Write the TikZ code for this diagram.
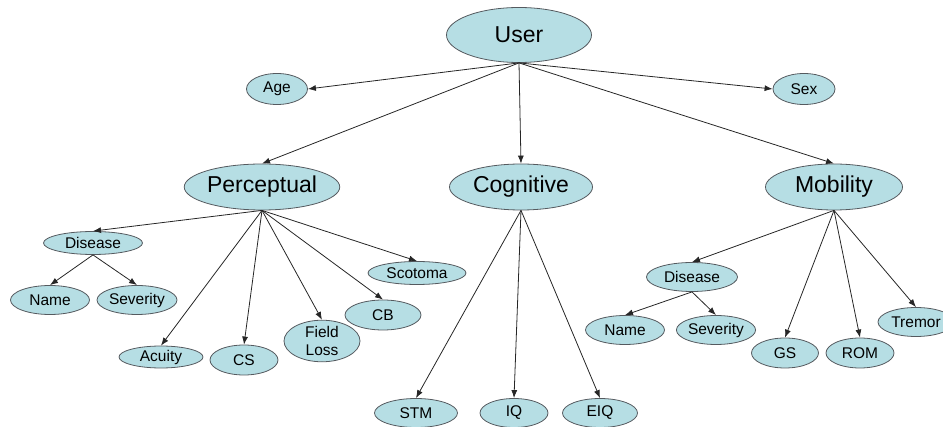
\documentclass[tikz,border=0pt]{standalone}
\usepackage{fontspec}
\setmainfont{Liberation Sans}
\usepackage{tikz}
\usetikzlibrary{shapes.geometric,arrows.meta}
\definecolor{nodefill}{RGB}{182,222,228}
\definecolor{nodeline}{RGB}{85,90,95}
\tikzset{
  oval/.style={ellipse, draw=nodeline, fill=nodefill, line width=0.8pt, inner sep=0pt},
  bigoval/.style={oval, font=\fontsize{23}{27}\selectfont},
  smalloval/.style={oval, font=\fontsize{15.5}{18}\selectfont, align=center},
  link/.style={-{Latex[length=8pt,width=6pt]}, line width=0.8pt, black!85}
}
\begin{document}
\begin{tikzpicture}[x=1pt,y=-1pt]
\useasboundingbox (0,0) rectangle (943,427);
\clip (0,0) rectangle (943,427);
\draw (519,35) node[bigoval,minimum width=145pt,minimum height=55pt](User) {User};
	\draw (277,89) node[smalloval,minimum width=61pt,minimum height=31pt](Age) {Age};
	\draw (804,89) node[smalloval,minimum width=62pt,minimum height=31pt](Sex) {Sex};
	\draw (262,187) node[bigoval,minimum width=135pt,minimum height=46pt](Perceptual) {Perceptual};
		\draw (93,243) node[smalloval,minimum width=99pt,minimum height=23pt](PDisease) {Disease};
			\draw (50,300) node[smalloval,minimum width=79pt,minimum height=29pt](PName) {Name};
			\draw (137,300) node[smalloval,minimum width=80pt,minimum height=29pt](PSeverity) {Severity};
		\draw (161,357) node[smalloval,minimum width=84pt,minimum height=22pt](Acuity) {Acuity};
		\draw (244,360) node[smalloval,minimum width=68pt,minimum height=30pt](CS) {CS};
		\draw (322,341) node[smalloval,minimum width=76pt,minimum height=40pt](FieldLoss) {Field\\Loss};
		\draw (383,315) node[smalloval,minimum width=76pt,minimum height=30pt](CB) {CB};
		\draw (417,273) node[smalloval,minimum width=98pt,minimum height=23pt](Scotoma) {Scotoma};
	\draw (521,187) node[bigoval,minimum width=143pt,minimum height=46pt](Cognitive) {Cognitive};
		\draw (416,413) node[smalloval,minimum width=83pt,minimum height=29pt](STM) {STM};
		\draw (514,413) node[smalloval,minimum width=68pt,minimum height=29pt](IQ) {IQ};
		\draw (600,413) node[smalloval,minimum width=75pt,minimum height=29pt](EIQ) {EIQ};
	\draw (834,187) node[bigoval,minimum width=137pt,minimum height=46pt](Mobility) {Mobility};
		\draw (692,277) node[smalloval,minimum width=91pt,minimum height=29pt](MDisease) {Disease};
			\draw (625,330) node[smalloval,minimum width=79pt,minimum height=29pt](MName) {Name};
			\draw (716,330) node[smalloval,minimum width=79pt,minimum height=29pt](MSeverity) {Severity};
		\draw (785,353) node[smalloval,minimum width=67pt,minimum height=30pt](GS) {GS};
		\draw (860,353) node[smalloval,minimum width=68pt,minimum height=30pt](ROM) {ROM};
		\draw (916,322) node[smalloval,minimum width=76pt,minimum height=29pt](Tremor) {Tremor};

\draw[link] (User.south) -- (Age.east);
\draw[link] (User.south) -- (Sex.west);
\draw[link] (User.south) -- (Perceptual.north);
\draw[link] (User.south) -- (Cognitive.north);
\draw[link] (User.south) -- (Mobility.north);
\draw[link] (Perceptual.south) -- (PDisease.north);
\draw[link] (Perceptual.south) -- (Acuity.north);
\draw[link] (Perceptual.south) -- (CS.north);
\draw[link] (Perceptual.south) -- (FieldLoss.north);
\draw[link] (Perceptual.south) -- (CB.north);
\draw[link] (Perceptual.south) -- (Scotoma.north);
\draw[link] (PDisease.south) -- (PName.north);
\draw[link] (PDisease.south) -- (PSeverity.north);
\draw[link] (Cognitive.south) -- (STM.north);
\draw[link] (Cognitive.south) -- (IQ.north);
\draw[link] (Cognitive.south) -- (EIQ.north);
\draw[link] (Mobility.south) -- (MDisease.north);
\draw[link] (Mobility.south) -- (GS.north);
\draw[link] (Mobility.south) -- (ROM.north);
\draw[link] (Mobility.south) -- (Tremor.north);
\draw[link] (MDisease.south) -- (MName.north);
\draw[link] (MDisease.south) -- (MSeverity.north);
\end{tikzpicture}
\end{document}
